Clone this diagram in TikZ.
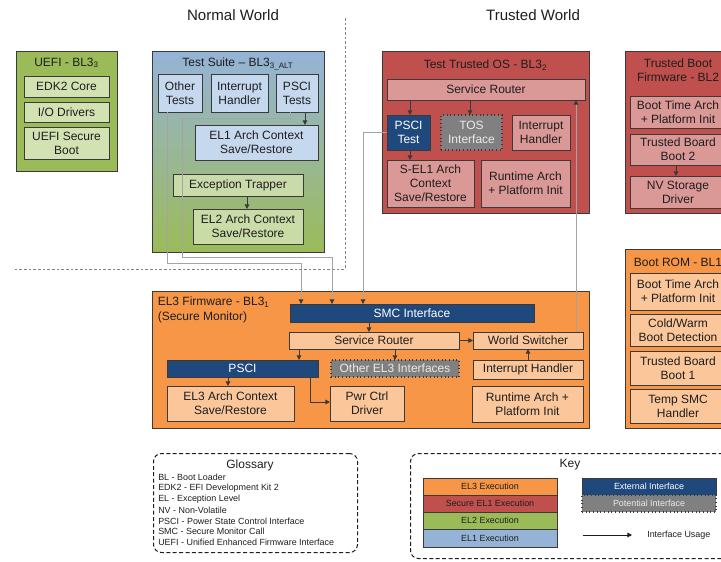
\documentclass[tikz,border=0pt]{standalone}
\usepackage{fontspec}
\setmainfont{Liberation Sans}
\usetikzlibrary{arrows.meta,calc}
\definecolor{grn}{HTML}{9BBB59}
\definecolor{grnl}{HTML}{D3E2B2}
\definecolor{blu}{HTML}{95B3D7}
\definecolor{blul}{HTML}{C6D8EE}
\definecolor{red}{HTML}{C0504D}
\definecolor{redl}{HTML}{DA9896}
\definecolor{org}{HTML}{F79646}
\definecolor{orgl}{HTML}{FAC69A}
\definecolor{dblu}{HTML}{1F497D}
\definecolor{gry}{HTML}{808080}
\definecolor{bd}{HTML}{3A3A3A}
\definecolor{txt}{HTML}{1E1E1E}
\definecolor{conn}{HTML}{A4A4A4}
\newcommand{\fs}{\fontsize{9}{10.6}\selectfont}
\newcommand{\fk}{\fontsize{6.7}{8}\selectfont}
\newcommand{\ft}{\fontsize{11.3}{13}\selectfont}
\newcommand{\bx}[7]{\node[#1, anchor=north west, minimum width={0.75*(#5-#3)}, minimum height={0.75*(#6-#4)}] (#2) at (#3,#4) {#7};}
\newcommand{\vdown}[3]{\coordinate (vx) at (#3,0); \draw[arr] (#1.south -| vx) -- (#2.north -| vx);}
\begin{document}
\begin{tikzpicture}[x=0.75pt,y=-0.75pt,
  box/.style={draw=bd, line width=0.75pt, inner sep=0pt, outer sep=0pt, align=center, font=\fs, text=txt},
  gbox/.style={box, fill=grn},
  gin/.style={box, fill=grnl},
  bin/.style={box, fill=blul},
  rbox/.style={box, fill=red},
  rin/.style={box, fill=redl},
  obox/.style={box, fill=org},
  oin/.style={box, fill=orgl},
  ext/.style={box, fill=dblu, text=white},
  pot/.style={box, fill=gry, text=white!92!black, dotted, line width=0.9pt},
  ttl/.style={font=\fs, text=txt, inner sep=0pt, align=center},
  arr/.style={draw=bd, line width=0.75pt, -{Triangle[length=3.5pt,width=3.5pt]}},
  gconn/.style={draw=conn, line width=0.7pt, -{Triangle[length=3.5pt,width=3.5pt,color=bd]}},
  dashbox/.style={draw=txt, line width=0.75pt, dash pattern=on 3pt off 1.8pt, rounded corners=6pt},
  gl/.style={font=\fk, text=txt, inner sep=0pt, anchor=west}]
\useasboundingbox (0,0) rectangle (721,561);

% world titles and boundary
\node[font=\ft, text=txt] (nw) at (233,15) {Normal World};
\node[font=\ft, text=txt] (tw) at (533,15) {Trusted World};
\coordinate (wb1) at (345,18);
\coordinate (wb2) at (345,269);
\coordinate (wb3) at (15,269);
\draw[draw=conn!80!black, line width=0.6pt, dash pattern=on 2pt off 1.5pt] (wb1) -- (wb2) -- (wb3);

% UEFI
\bx{gbox}{uefi}{16}{51}{117}{171}{}
\node[ttl] (uefiT) at (66.5,63) {UEFI - BL3\textsubscript{3}};
\bx{gin}{uefiEdk}{24}{76}{109}{97}{EDK2 Core}
\bx{gin}{uefiIo}{24}{102}{109}{122}{I/O Drivers}
\bx{gin}{uefiSb}{24}{127}{109}{159}{UEFI Secure\\Boot}

% Test Suite
\bx{box, top color=blu, bottom color=grn, middle color=blu!50!grn}{ts}{152}{51}{324}{252}{}
\node[ttl] (tsT) at (238,64) {Test Suite -- BL3\textsubscript{3\_ALT}};
\bx{bin}{otherT}{158}{74}{202}{112}{Other\\Tests}
\bx{bin}{ihT}{211}{74}{268}{112}{Interrupt\\Handler}
\bx{bin}{tsPsci}{276}{74}{318}{112}{PSCI\\Tests}
\bx{bin}{el1}{195}{125}{318}{160}{EL1 Arch Context\\Save/Restore}
\bx{gin, fill opacity=0.85, text opacity=1}{exTrap}{173}{174}{303}{196}{Exception Trapper}
\bx{gin, fill opacity=0.85, text opacity=1}{el2}{193}{209}{303}{244}{EL2 Arch Context\\Save/Restore}

% Test Trusted OS
\bx{rbox}{tos}{382}{51}{589}{213}{}
\node[ttl] (tosT) at (485.5,65) {Test Trusted OS - BL3\textsubscript{2}};
\bx{rin}{tosSR}{387}{79}{585}{100}{Service Router}
\bx{ext}{tosPsci}{387}{115}{430}{150}{PSCI\\Test}
\bx{pot}{tosIf}{441}{115}{502}{150}{TOS\\Interface}
\bx{rin}{tosIh}{512}{115}{570}{150}{Interrupt\\Handler}
\bx{rin}{sel1}{387}{160}{474}{207}{S-EL1 Arch\\Context\\Save/Restore}
\bx{rin}{tosRt}{481}{160}{570}{207}{Runtime Arch\\+ Platform Init}

% Trusted Boot Firmware BL2
\bx{rbox}{bl2}{625}{51}{731}{213}{}
\node[ttl] (bl2T) at (678,70.5) {Trusted Boot\\Firmware - BL2};
\bx{rin}{bl2bt}{630}{96}{726}{128}{Boot Time Arch\\+ Platform Init}
\bx{rin}{tbb2}{630}{134}{726}{165}{Trusted Board\\Boot 2}
\bx{rin}{nvs}{630}{176}{726}{208}{NV Storage\\Driver}

% Boot ROM BL1
\bx{obox}{bl1}{625}{249}{731}{428}{}
\node[ttl] (bl1T) at (678,262) {Boot ROM - BL1};
\bx{oin}{bl1bt}{630}{273}{726}{310}{Boot Time Arch\\+ Platform Init}
\bx{oin}{cwb}{630}{314}{726}{346}{Cold/Warm\\Boot Detection}
\bx{oin}{tbb1}{630}{351}{726}{385}{Trusted Board\\Boot 1}
\bx{oin}{tsmc}{630}{389}{726}{423}{Temp SMC\\Handler}

% EL3 Firmware
\bx{obox}{el3}{152}{291}{589}{428}{}
\node[ttl, align=left, anchor=north west] (el3T) at (157.5,297) {EL3 Firmware - BL3\textsubscript{1}\\(Secure Monitor)};
\bx{ext}{smc}{290}{304}{534}{322}{SMC Interface}
\bx{oin}{sr}{289}{332}{459}{349}{Service Router}
\bx{oin}{wsw}{473}{332}{583}{349}{World Switcher}
\bx{ext}{psci}{167}{360}{318}{377}{PSCI}
\bx{pot}{oel3}{331}{360}{459}{377}{Other EL3 Interfaces}
\bx{oin}{ih3}{473}{360}{583}{379}{Interrupt Handler}
\bx{oin}{el3ctx}{167}{386}{294}{421}{EL3 Arch Context\\Save/Restore}
\bx{oin}{pwr}{330}{386}{404}{421}{Pwr Ctrl\\Driver}
\bx{oin}{rt3}{472}{386}{583}{422}{Runtime Arch +\\Platform Init}

% internal arrows
\vdown{tsPsci}{el1}{305}
\vdown{exTrap}{el2}{247}
\vdown{tosSR}{tosPsci}{410}
\vdown{tosSR}{tosIf}{470}
\vdown{tosPsci}{sel1}{410}
\vdown{tbb2}{nvs}{676}
\vdown{smc}{sr}{369}
\vdown{sr}{psci}{299}
\vdown{sr}{oel3}{395}
\vdown{psci}{el3ctx}{228}
\coordinate (p1) at (310,402);
\draw[arr] (psci.south -| p1) |- (pwr.west |- p1);
\draw[arr] (sr.east) -- (wsw.west);
\coordinate (ihx) at (528,0);
\draw[arr] (ih3.north -| ihx) -- (wsw.south -| ihx);

% long connectors
\coordinate (g1a) at (167,263);
\coordinate (g1b) at (301,263);
\draw[gconn] (otherT.south -| g1a) -- (g1a) -- (g1b) -- (smc.north -| g1b);
\coordinate (g2a) at (290,118);
\coordinate (g2b) at (182,118);
\coordinate (g2c) at (182,257);
\coordinate (g2d) at (332,257);
\draw[gconn] (tsPsci.south -| g2a) -- (g2a) -- (g2b) -- (g2c) -- (g2d) -- (smc.north -| g2d);
\coordinate (g3) at (363,0);
\draw[gconn] (tosPsci.west) -| (smc.north -| g3);
\coordinate (g4) at (576,0);
\draw[gconn] (wsw.north -| g4) -- (tosSR.south -| g4);

% Glossary
\bx{dashbox}{gloss}{153}{453}{357}{552}{}
\node[ttl] (glT) at (250,465) {Glossary};
\foreach \t [count=\i] in {BL - Boot Loader, EDK2 - EFI Development Kit 2, EL - Exception Level, NV - Non-Volatile, PSCI - Power State Control Interface, SMC - Secure Monitor Call, UEFI - Unified Enhanced Firmware Interface}
  \node[gl] (gl\i) at (158,466.3+\i*10.9) {\t};

% Key
\bx{dashbox}{key}{410}{453}{730}{558}{}
\node[ttl] (keyT) at (570,465) {Key};
\bx{box, fill=org, font=\fk}{k1}{423}{478}{557}{495}{EL3 Execution}
\bx{box, fill=red, font=\fk}{k2}{423}{495}{557}{512}{Secure EL1 Execution}
\bx{box, fill=grn, font=\fk}{k3}{423}{512}{557}{529}{EL2 Execution}
\bx{box, fill=blu, font=\fk}{k4}{423}{529}{557}{547}{EL1 Execution}
\bx{ext, font=\fk}{k5}{582}{478}{716}{495}{External Interface}
\bx{pot, font=\fk}{k6}{582}{495}{716}{512}{Potential Interface}
\coordinate (ka) at (583,535);
\coordinate (kb) at (632,535);
\draw[draw=txt, line width=0.75pt, -{Triangle[length=3.5pt,width=3.5pt]}] (ka) -- (kb);
\node[gl] (kuse) at (647,535) {Interface Usage};
\end{tikzpicture}
\end{document}
